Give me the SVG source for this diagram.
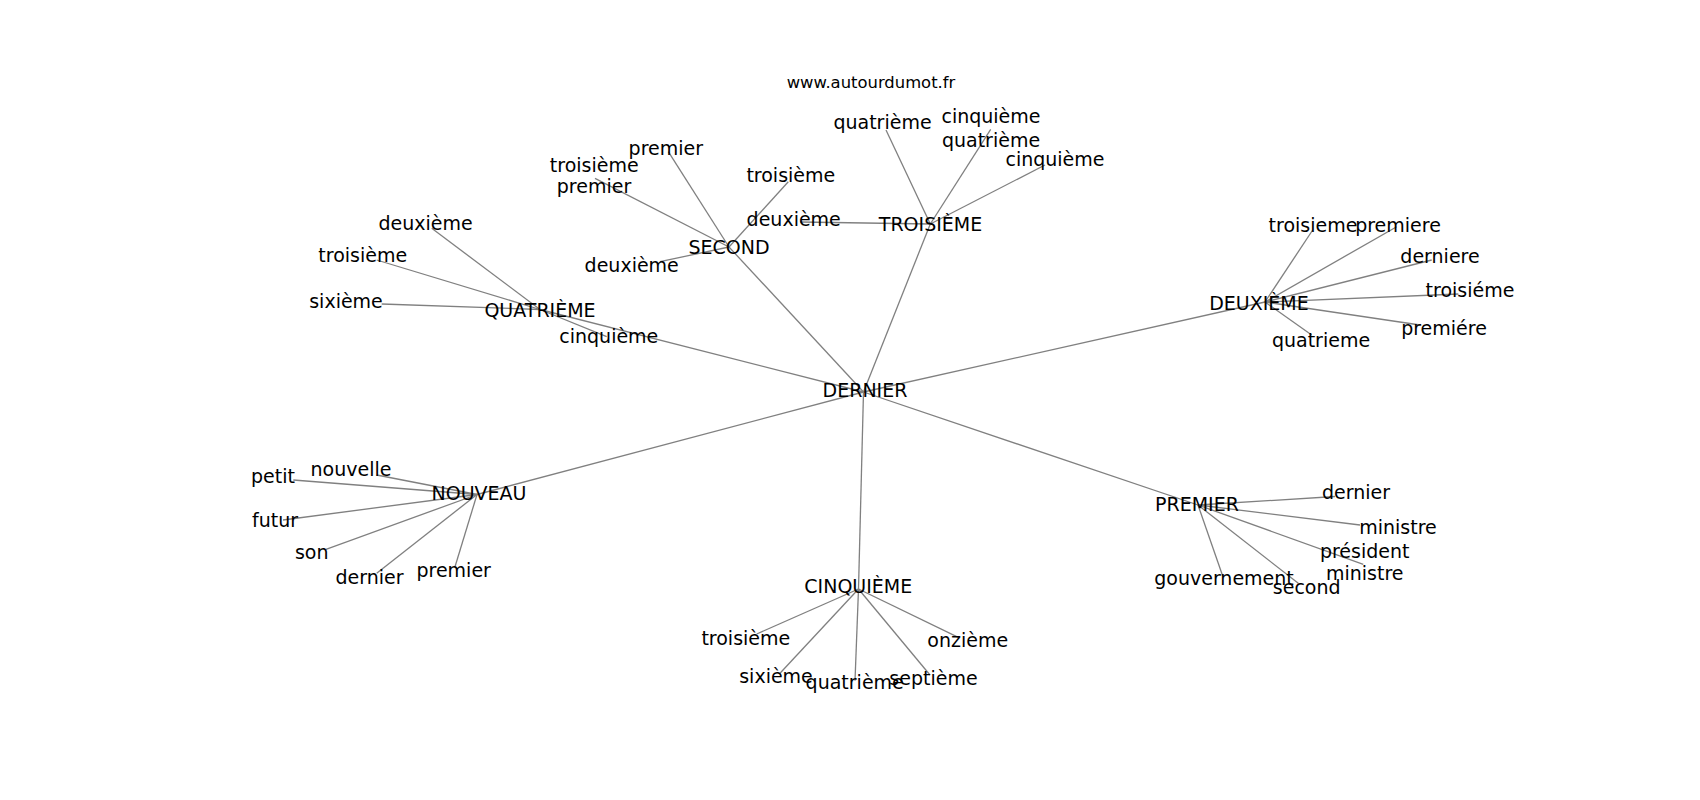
<svg xmlns="http://www.w3.org/2000/svg" width="1700" height="800" viewBox="0 0 1700 800">
<style>
text{font-family:"DejaVu Sans","Liberation Sans",sans-serif;font-size:19px;fill:#000;text-anchor:middle}
.t{font-size:16.4px}
#edges line{stroke:#808080;stroke-width:1.3}
</style>
<rect width="1700" height="800" fill="#fff"/>
<g id="edges">
<line x1="863.5" y1="392" x2="729" y2="247"/>
<line x1="863.5" y1="392" x2="930.3" y2="224"/>
<line x1="863.5" y1="392" x2="540" y2="309.5"/>
<line x1="863.5" y1="392" x2="1265" y2="302"/>
<line x1="863.5" y1="392" x2="477" y2="494.5"/>
<line x1="863.5" y1="392" x2="1198" y2="505"/>
<line x1="863.5" y1="392" x2="858.5" y2="589"/>
<line x1="729" y1="247" x2="668.3" y2="151.7"/>
<line x1="729" y1="247" x2="595" y2="178.3"/>
<line x1="729" y1="247" x2="660" y2="261.7"/>
<line x1="729" y1="247" x2="788.3" y2="181.7"/>
<line x1="930.3" y1="224" x2="886" y2="130"/>
<line x1="930.3" y1="224" x2="990.7" y2="129.3"/>
<line x1="930.3" y1="224" x2="1045" y2="165"/>
<line x1="930.3" y1="224" x2="800" y2="222"/>
<line x1="540" y1="309.5" x2="431.7" y2="228.3"/>
<line x1="540" y1="309.5" x2="376.7" y2="260"/>
<line x1="540" y1="309.5" x2="381.7" y2="304"/>
<line x1="540" y1="309.5" x2="606.7" y2="336.7"/>
<line x1="1265" y1="302" x2="1312.7" y2="230"/>
<line x1="1265" y1="302" x2="1396.7" y2="226.7"/>
<line x1="1265" y1="302" x2="1431.7" y2="260"/>
<line x1="1265" y1="302" x2="1458.3" y2="294"/>
<line x1="1265" y1="302" x2="1420" y2="325"/>
<line x1="1265" y1="302" x2="1311.7" y2="335"/>
<line x1="477" y1="494.5" x2="376.7" y2="475"/>
<line x1="477" y1="494.5" x2="293.3" y2="480"/>
<line x1="477" y1="494.5" x2="283" y2="520"/>
<line x1="477" y1="494.5" x2="326" y2="549.3"/>
<line x1="477" y1="494.5" x2="376.7" y2="573.3"/>
<line x1="477" y1="494.5" x2="455" y2="566.7"/>
<line x1="1198" y1="505" x2="1335" y2="496.5"/>
<line x1="1198" y1="505" x2="1360" y2="525"/>
<line x1="1198" y1="505" x2="1363.3" y2="564.3"/>
<line x1="1198" y1="505" x2="1222.7" y2="576"/>
<line x1="1198" y1="505" x2="1298.3" y2="583.3"/>
<line x1="858.5" y1="589" x2="756.7" y2="634"/>
<line x1="858.5" y1="589" x2="958.3" y2="637.3"/>
<line x1="858.5" y1="589" x2="780" y2="673.3"/>
<line x1="858.5" y1="589" x2="855" y2="680.7"/>
<line x1="858.5" y1="589" x2="930" y2="675"/>
</g>
<g id="title"><text class="t" x="871" y="87.5">www.autourdumot.fr</text></g>
<g id="n-dernier"><text x="865" y="396.7">DERNIER</text></g>
<g id="n-second"><text x="729" y="254.3">SECOND</text></g>
<g id="n-troisieme"><text x="930.5" y="230.7">TROISIÈME</text></g>
<g id="n-quatrieme"><text x="540" y="316.7">QUATRIÈME</text></g>
<g id="n-deuxieme"><text x="1259" y="310">DEUXIÈME</text></g>
<g id="n-nouveau"><text x="479" y="500">NOUVEAU</text></g>
<g id="n-premier"><text x="1197" y="510.7">PREMIER</text></g>
<g id="n-cinquieme"><text x="858.3" y="593.3">CINQUIÈME</text></g>
<g id="sec-1"><text x="665.8" y="155">premier</text></g>
<g id="sec-2"><text x="594.2" y="172.3">troisième</text></g>
<g id="sec-3"><text x="594" y="193.3">premier</text></g>
<g id="sec-4"><text x="790.8" y="181.7">troisième</text></g>
<g id="sec-5"><text x="631.7" y="272.3">deuxième</text></g>
<g id="tro-1"><text x="882.5" y="129.3">quatrième</text></g>
<g id="tro-2"><text x="991" y="123.3">cinquième</text></g>
<g id="tro-3"><text x="991" y="147.3">quatrième</text></g>
<g id="tro-4"><text x="1055" y="165.7">cinquième</text></g>
<g id="tro-5"><text x="793.7" y="226">deuxième</text></g>
<g id="qua-1"><text x="425.5" y="230">deuxième</text></g>
<g id="qua-2"><text x="362.7" y="261.7">troisième</text></g>
<g id="qua-3"><text x="346" y="308.3">sixième</text></g>
<g id="qua-4"><text x="608.8" y="343.3">cinquième</text></g>
<g id="deu-1"><text x="1313" y="232.3">troisieme</text></g>
<g id="deu-2"><text x="1398" y="232.3">premiere</text></g>
<g id="deu-3"><text x="1440" y="263.3">derniere</text></g>
<g id="deu-4"><text x="1470" y="296.7">troisiéme</text></g>
<g id="deu-5"><text x="1444" y="335">premiére</text></g>
<g id="deu-6"><text x="1321" y="346.7">quatrieme</text></g>
<g id="nou-1"><text x="351" y="476">nouvelle</text></g>
<g id="nou-2"><text x="273" y="483.3">petit</text></g>
<g id="nou-3"><text x="275" y="526.7">futur</text></g>
<g id="nou-4"><text x="311.7" y="559.3">son</text></g>
<g id="nou-5"><text x="369.5" y="584.3">dernier</text></g>
<g id="nou-6"><text x="453.7" y="576.7">premier</text></g>
<g id="pre-1"><text x="1356" y="499.3">dernier</text></g>
<g id="pre-2"><text x="1398" y="534">ministre</text></g>
<g id="pre-3"><text x="1364.7" y="558.3">président</text></g>
<g id="pre-4"><text x="1364.7" y="580">ministre</text></g>
<g id="pre-5"><text x="1224" y="585">gouvernement</text></g>
<g id="pre-6"><text x="1306.7" y="594">second</text></g>
<g id="cin-1"><text x="745.8" y="645">troisième</text></g>
<g id="cin-2"><text x="967.7" y="647.3">onzième</text></g>
<g id="cin-3"><text x="776" y="683.3">sixième</text></g>
<g id="cin-4"><text x="854.7" y="689.3">quatrième</text></g>
<g id="cin-5"><text x="933.5" y="685">septième</text></g>
</svg>
